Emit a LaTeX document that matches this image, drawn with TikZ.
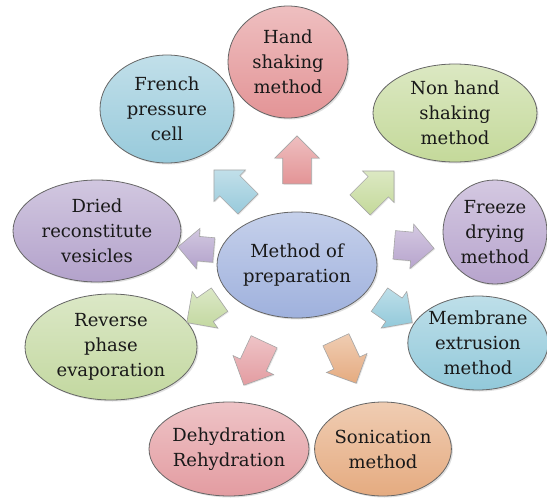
\documentclass[tikz,border=0pt]{standalone}
\usepackage{fontspec}
\setmainfont{DejaVu Serif}
\usepackage{tikz}
\usetikzlibrary{%
  positioning
 ,shapes
 ,shapes.arrows
 ,shadows
}
% ellipse fills
\definecolor{cPrep}{HTML}{9FB1DD}
\definecolor{cHand}{HTML}{E39496}
\definecolor{cNonhand}{HTML}{C4D99A}
\definecolor{cFreeze}{HTML}{B7A4CD}
\definecolor{cMemb}{HTML}{92C9DA}
\definecolor{cSonic}{HTML}{E5AB80}
\definecolor{cDehyd}{HTML}{E39CA1}
\definecolor{cRev}{HTML}{C3D8A0}
\definecolor{cDried}{HTML}{B3A2CB}
\definecolor{cFrench}{HTML}{98CADB}
\tikzset{fillc/.style={top color=#1!60!white,bottom color=#1}}
\tikzstyle{meth}=[ellipse,draw=black!60,line width=0.8pt,inner sep=0pt,align=center,
  text=black!90,font=\fontsize{18}{25}\selectfont,
  drop shadow={opacity=0.25,shadow xshift=1.5pt,shadow yshift=-1.5pt}]
\tikzstyle{arr}=[single arrow,draw=black!35,line width=0.6pt,inner xsep=0pt,inner ysep=14pt,
  minimum height=48pt,single arrow head extend=8pt,
  drop shadow={opacity=0.2,shadow xshift=1pt,shadow yshift=-1pt}]

\begin{document}
\begin{tikzpicture}[x=1pt,y=-1pt]
  \useasboundingbox (0,0) rectangle (547,501);
  \node[meth,fillc=cPrep,minimum width=160pt,minimum height=106pt]    (prep)    at (297,265) {Method of\\preparation};
  \node[meth,fillc=cHand,minimum width=120pt,minimum height=112pt]    (hand)    at (288,62)  {Hand\\shaking\\method};
  \node[meth,fillc=cNonhand,minimum width=164pt,minimum height=98pt]  (nonhand) at (455,113) {Non hand\\shaking\\method};
  \node[meth,fillc=cFreeze,minimum width=104pt,minimum height=104pt]  (freeze)  at (495,232) {Freeze\\drying\\method};
  \node[meth,fillc=cMemb,minimum width=136pt,minimum height=94pt]     (memb)    at (478,343) {Membrane\\extrusion\\method};
  \node[meth,fillc=cSonic,minimum width=136pt,minimum height=94pt]    (sonic)   at (383,449) {Sonication\\method};
  \node[meth,fillc=cDehyd,minimum width=158pt,minimum height=94pt]    (dehyd)   at (229,449) {Dehydration\\Rehydration};
  \node[meth,fillc=cRev,minimum width=172pt,minimum height=106pt]     (rev)     at (111,347) {Reverse\\phase\\evaporation};
  \node[meth,fillc=cDried,minimum width=168pt,minimum height=102pt]   (dried)   at (97,231)  {Dried\\reconstitute\\vesicles};
  \node[meth,fillc=cFrench,minimum width=134pt,minimum height=108pt]  (french)  at (167,109) {French\\pressure\\cell};
%
  \node[arr,fillc=cHand,rotate=90]     (a_hand)    at (297,167) {};
  \node[arr,fillc=cNonhand,rotate=45]  (a_nonhand) at (372,193) {};
  \node[arr,fillc=cFreeze,rotate=-5,minimum height=40pt]   (a_freeze)  at (407,246) {};
  \node[arr,fillc=cMemb,rotate=-35,minimum height=40pt]    (a_memb)    at (390,307) {};
  \node[arr,fillc=cSonic,rotate=-65]   (a_sonic)   at (343,355) {};
  \node[arr,fillc=cDehyd,rotate=-115]  (a_dehyd)   at (257,357) {};
  \node[arr,fillc=cRev,rotate=-145,minimum height=40pt]    (a_rev)     at (209,307) {};
  \node[arr,fillc=cDried,rotate=175,minimum height=36pt,inner ysep=12pt]  (a_dried)   at (202,249) {};
  \node[arr,fillc=cFrench,rotate=135]  (a_french)  at (236,192) {};
\end{tikzpicture}
\end{document}
